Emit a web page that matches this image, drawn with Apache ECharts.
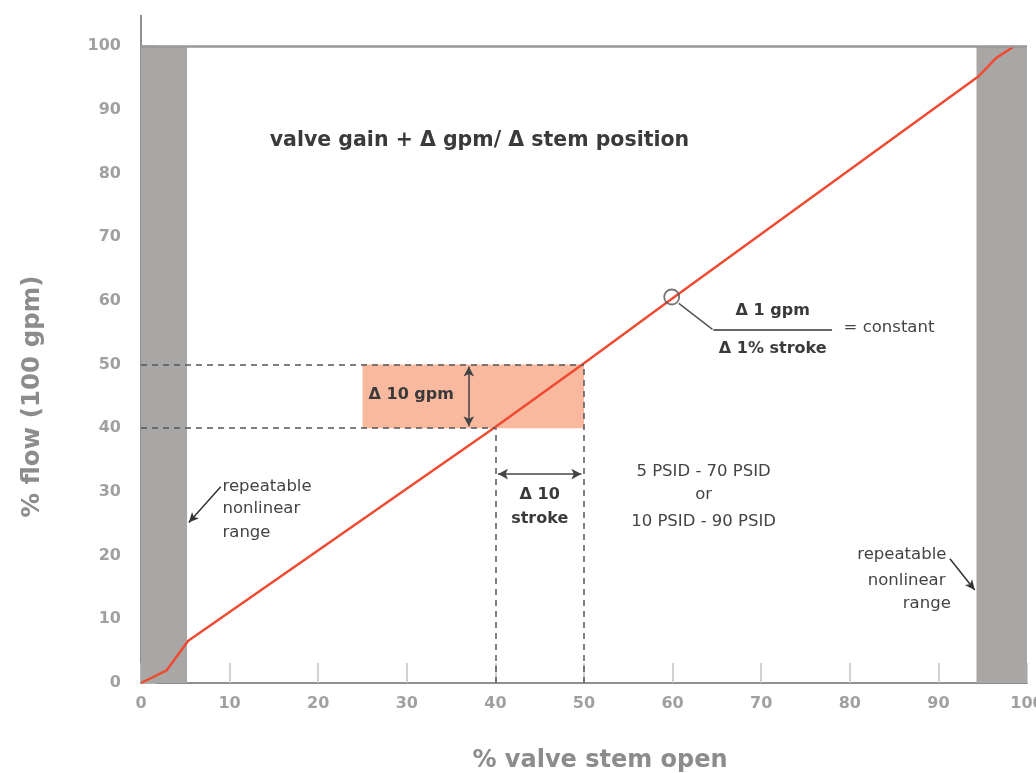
<!DOCTYPE html>
<html><head><meta charset="utf-8">
<script src="https://cdn.jsdelivr.net/npm/echarts@6/dist/echarts.min.js"></script>
<style>html,body{margin:0;padding:0;background:#fff}#c{width:1036px;height:773px}</style>
</head><body><div id="c"></div>
<script>
// Data
const stemOpen = [0, 2.9, 5.3, 40, 50, 60, 94.5, 96.5, 98.6];
const flowPct  = [0, 2.0, 6.6, 40.2, 50.2, 60.4, 95.2, 98.1, 100];
const xTicks = [0,10,20,30,40,50,60,70,80,90,100];
const yTicks = [0,10,20,30,40,50,60,70,80,90,100];
const nonlinearLeft = [0, 5.2];
const nonlinearRight = [94.3, 100];
const gainBoxX = [25, 50];
const gainBoxY = [40, 50];
const gainPoint = [59.9, 60.6];

const chart = echarts.init(document.getElementById('c'));
const GRAY = '#a9a7a6', AX = '#8f8f8f', LBL = '#a0a0a0', DARK = '#3a3a3a', RED = '#ef4b33';
const FONT = '"DejaVu Sans", sans-serif';
const dash = {type:[6,5], color:'#555', width:1.5};

chart.setOption({
  animation:false,
  grid:{left:141, right:9, top:46, bottom:90, outerBoundsMode:'none', containLabel:false},
  xAxis:{type:'value', min:0, max:100, interval:10,
    name:'% valve stem open', nameLocation:'middle', nameGap:66,
    nameTextStyle:{color:'#8c8c8c', fontSize:24, fontWeight:'bold', fontFamily:FONT, padding:[0,0,0,32]},
    axisLine:{lineStyle:{color:AX, width:2}}, splitLine:{show:false},
    axisTick:{inside:true, length:20, lineStyle:{color:'#c4c4c4', width:1.5}},
    axisLabel:{color:LBL, fontSize:16, fontWeight:'bold', fontFamily:FONT, margin:13,
      formatter:v=>xTicks.includes(v)?String(v):''}},
  yAxis:{type:'value', min:0, max:100, interval:10,
    name:'% flow (100 gpm)', nameLocation:'middle', nameGap:96, nameRotate:90,
    nameTextStyle:{color:'#8c8c8c', fontSize:24.5, fontWeight:'bold', fontFamily:FONT, padding:[0,64,0,0]},
    axisLine:{show:true, lineStyle:{color:AX, width:2}}, splitLine:{show:false},
    axisTick:{show:true, inside:true, length:15, lineStyle:{color:'#c4c4c4', width:1.5}},
    axisLabel:{color:LBL, fontSize:16, fontWeight:'bold', fontFamily:FONT, margin:20,
      formatter:v=>yTicks.includes(v)?String(v):''}},
  series:[
    {type:'line', data:[], silent:true, z:1,
     markArea:{silent:true, data:[
       [{coord:[nonlinearLeft[0],0], itemStyle:{color:GRAY}}, {coord:[nonlinearLeft[1],100]}],
       [{coord:[nonlinearRight[0],0], itemStyle:{color:GRAY}}, {coord:[nonlinearRight[1],100]}],
       [{coord:[gainBoxX[0],gainBoxY[0]], itemStyle:{color:'#f8b99e'}}, {coord:[gainBoxX[1],gainBoxY[1]]}]
     ]},
     markLine:{silent:true, symbol:'none', label:{show:false}, data:[
       [{coord:[0,100], lineStyle:{type:'solid', color:'#999', width:2.5}}, {coord:[100,100]}],
       [{coord:[0,gainBoxY[1]], lineStyle:dash}, {coord:[gainBoxX[1],gainBoxY[1]]}],
       [{coord:[0,gainBoxY[0]], lineStyle:dash}, {coord:[40,gainBoxY[0]]}],
       [{coord:[40,0], lineStyle:dash}, {coord:[40,40]}],
       [{coord:[50,0], lineStyle:dash}, {coord:[50,50]}],
       [{coord:[37,40.3], symbol:'arrow', symbolSize:[8,10], lineStyle:{type:'solid', color:'#444', width:1.5}}, {coord:[37,49.7], symbol:'arrow', symbolSize:[8,10]}],
       [{coord:[40.3,32.8], symbol:'arrow', symbolSize:[8,10], lineStyle:{type:'solid', color:'#444', width:1.5}}, {coord:[49.7,32.8], symbol:'arrow', symbolSize:[8,10]}],
       [{coord:[9.0,30.8], symbol:'none', lineStyle:{type:'solid', color:'#333', width:1.5}}, {coord:[5.4,25.2], symbol:'arrow', symbolSize:[7,10]}],
       [{coord:[91.3,19.5], symbol:'none', lineStyle:{type:'solid', color:'#333', width:1.5}}, {coord:[94.1,14.6], symbol:'arrow', symbolSize:[7,10]}],
       [{coord:[60.7,59.6], lineStyle:{type:'solid', color:'#555', width:1.5}}, {coord:[64.5,55.5]}],
       [{coord:[64.6,55.5], lineStyle:{type:'solid', color:'#333', width:1.5}}, {coord:[78,55.5]}]
     ]}
    },
    {type:'line', z:3, silent:true, showSymbol:false, smooth:false,
     data: stemOpen.map((x,i)=>[x, flowPct[i]]),
     lineStyle:{color:RED, width:2.5}},
    {type:'scatter', z:4, silent:true, data:[gainPoint], symbol:'circle', symbolSize:15,
     itemStyle:{color:'rgba(0,0,0,0)', borderColor:'#555', borderWidth:1.8}}
  ]
});

function P(x,y){return chart.convertToPixel({gridIndex:0},[x,y]);}
function T(x,y,text,opt){const p=P(x,y);return {type:'text', x:p[0], y:p[1], z:10,
  style:Object.assign({text:text, fill:DARK, font:'bold 16px '+FONT, textAlign:'center', textVerticalAlign:'middle'}, opt||{})};}
const top0 = P(0,100);
const N = '16.5px '+FONT;
chart.setOption({graphic:[
  {type:'line', shape:{x1:top0[0], y1:top0[1]-31, x2:top0[0], y2:top0[1]}, style:{stroke:AX, lineWidth:2}},
  T(38.2,85.2,'valve gain + Δ gpm/ Δ stem position',{font:'bold 20.5px '+FONT}),
  T(30.5,45.2,'Δ 10 gpm'),
  T(45,29.6,'Δ 10'),
  T(45,25.8,'stroke'),
  T(71.3,58.5,'Δ 1 gpm'),
  T(71.3,52.5,'Δ 1% stroke'),
  T(79.3,55.8,'= constant',{font:N, fill:'#444', textAlign:'left'}),
  T(63.5,33.2,'5 PSID - 70 PSID',{font:N, fill:'#444'}),
  T(63.5,29.6,'or',{font:N, fill:'#444'}),
  T(63.5,25.3,'10 PSID - 90 PSID',{font:N, fill:'#444'}),
  T(9.2,30.8,'repeatable',{font:N, fill:'#444', textAlign:'left'}),
  T(9.2,27.3,'nonlinear',{font:N, fill:'#444', textAlign:'left'}),
  T(9.2,23.6,'range',{font:N, fill:'#444', textAlign:'left'}),
  T(90.9,20.2,'repeatable',{font:N, fill:'#444', textAlign:'right'}),
  T(90.8,16.1,'nonlinear',{font:N, fill:'#444', textAlign:'right'}),
  T(91.4,12.4,'range',{font:N, fill:'#444', textAlign:'right'})
]});
</script></body></html>
